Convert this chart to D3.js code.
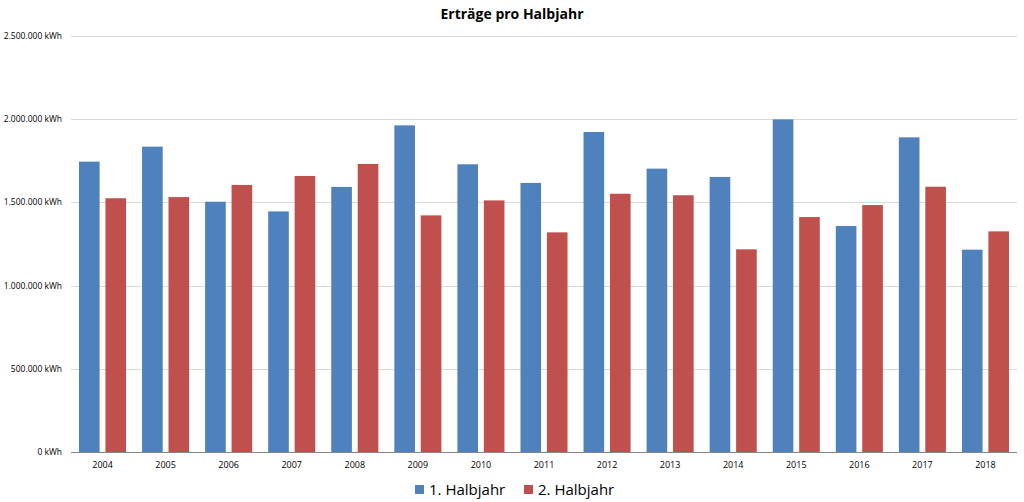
<!DOCTYPE html>
<html>
<head>
<meta charset="utf-8">
<script src="https://cdn.jsdelivr.net/npm/d3@7"></script>
<style>
  body { margin: 0; background: #fff; }
  text { font-family: "Open Sans", "Liberation Sans", sans-serif; fill: #000; }
</style>
</head>
<body>
<svg width="1024" height="502"></svg>
<script>
// data
var years = ["2004","2005","2006","2007","2008","2009","2010","2011","2012","2013","2014","2015","2016","2017","2018"];
var firstHalf  = [1745000, 1835000, 1504000, 1446000, 1593000, 1963000, 1729000, 1617000, 1923000, 1703000, 1653000, 1999000, 1358000, 1891000, 1216000];
var secondHalf = [1525000, 1532000, 1605000, 1659000, 1731000, 1422000, 1512000, 1320000, 1552000, 1543000, 1218000, 1412000, 1484000, 1594000, 1326000];
var seriesNames = ["1. Halbjahr", "2. Halbjahr"];
var seriesColors = ["#4f81bd", "#c0504d"];
var yTicks = [0, 500000, 1000000, 1500000, 2000000, 2500000];

var svg = d3.select("svg");
var plotLeft = 71, plotRight = 1017, plotTop = 36, plotBottom = 452;

var x = d3.scaleBand().domain(years).range([plotLeft, plotRight]).paddingInner(0).paddingOuter(0);
var sub = d3.scaleBand().domain([0, 1]).range([8, x.bandwidth() - 8]).paddingInner(0.22);
var y = d3.scaleLinear().domain([0, 2500000]).range([plotBottom, plotTop]);

var fmt = d3.formatLocale({ decimal: ",", thousands: ".", grouping: [3], currency: ["", "€"] }).format(",.0f");

// gridlines
svg.append("g").selectAll("line")
  .data(yTicks.filter(function(d) { return d > 0; }))
  .enter().append("line")
    .attr("x1", plotLeft).attr("x2", plotRight)
    .attr("y1", function(d) { return Math.round(y(d)) + 0.5; })
    .attr("y2", function(d) { return Math.round(y(d)) + 0.5; })
    .attr("stroke", "#d9d9d9").attr("stroke-width", 1);

// y labels
svg.append("g").selectAll("text")
  .data(yTicks)
  .enter().append("text")
    .attr("x", 62)
    .attr("y", function(d) { return y(d); })
    .attr("dy", "0.35em")
    .attr("text-anchor", "end")
    .style("font-size", "8.5px")
    .text(function(d) { return fmt(d) + " kWh"; });

// bars
var groups = svg.append("g").selectAll("g")
  .data(years)
  .enter().append("g")
    .attr("transform", function(d) { return "translate(" + x(d) + ",0)"; });

groups.selectAll("rect")
  .data(function(d, i) { return [firstHalf[i], secondHalf[i]]; })
  .enter().append("rect")
    .attr("x", function(d, j) { return sub(j); })
    .attr("width", sub.bandwidth())
    .attr("y", function(d) { return y(d); })
    .attr("height", function(d) { return plotBottom - y(d); })
    .attr("fill", function(d, j) { return seriesColors[j]; });

// baseline
svg.append("line")
  .attr("x1", plotLeft).attr("x2", plotRight)
  .attr("y1", plotBottom + 0.5).attr("y2", plotBottom + 0.5)
  .attr("stroke", "#868686").attr("stroke-width", 1);

// x labels
svg.append("g").selectAll("text")
  .data(years)
  .enter().append("text")
    .attr("x", function(d) { return x(d) + x.bandwidth() / 2; })
    .attr("y", 465)
    .attr("dy", "0.35em")
    .attr("text-anchor", "middle")
    .style("font-size", "9px")
    .text(function(d) { return d; });

// title
svg.append("text")
  .attr("x", 512).attr("y", 14)
  .attr("dy", "0.35em")
  .attr("text-anchor", "middle")
  .style("font-size", "14px")
  .style("font-weight", "bold")
  .text("Erträge pro Halbjahr");

// legend
var legendX = [415, 524];
var legend = svg.append("g").selectAll("g")
  .data(seriesNames)
  .enter().append("g")
    .attr("transform", function(d, i) { return "translate(" + legendX[i] + ",490)"; });
legend.append("rect")
  .attr("x", 0).attr("y", -5).attr("width", 9).attr("height", 9)
  .attr("fill", function(d, i) { return seriesColors[i]; });
legend.append("text")
  .attr("x", 14).attr("y", 0)
  .attr("dy", "0.35em")
  .style("font-size", "15px")
  .text(function(d) { return d; });
</script>
</body>
</html>
